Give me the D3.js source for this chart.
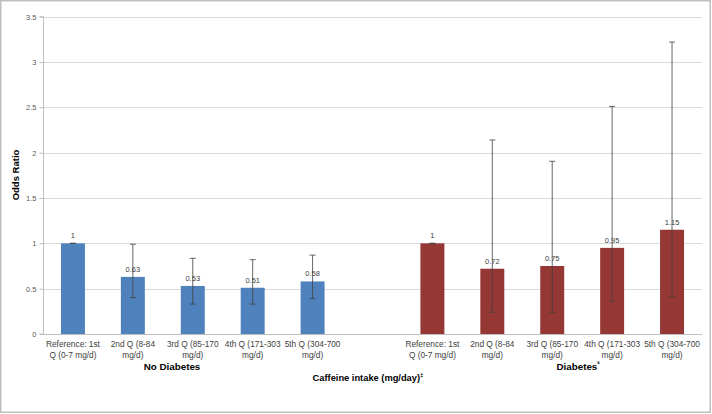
<!DOCTYPE html>
<html><head><meta charset="utf-8">
<script src="https://cdn.jsdelivr.net/npm/d3@7"></script>
<style>body{margin:0;background:#fff;}svg{display:block;font-family:"Liberation Sans",Arial,sans-serif;}</style>
</head><body>
<svg id="c" width="712" height="414"></svg>
<script>
const categories = ["n1","n2","n3","n4","n5","gap","d1","d2","d3","d4","d5"];
const catLabels = [
  ["Reference: 1st","Q (0-7 mg/d)"],["2nd Q (8-84","mg/d)"],["3rd Q (85-170","mg/d)"],["4th Q (171-303","mg/d)"],["5th Q (304-700","mg/d)"],
  ["",""],
  ["Reference: 1st","Q (0-7 mg/d)"],["2nd Q (8-84","mg/d)"],["3rd Q (85-170","mg/d)"],["4th Q (171-303","mg/d)"],["5th Q (304-700","mg/d)"]
];
const noDiabetesOR = [1, 0.63, 0.53, 0.51, 0.58];
const noDiabetesLow = [1, 0.40, 0.33, 0.33, 0.39];
const noDiabetesHigh = [1, 0.99, 0.835, 0.82, 0.87];
const diabetesOR = [1, 0.72, 0.75, 0.95, 1.15];
const diabetesLow = [1, 0.24, 0.24, 0.36, 0.41];
const diabetesHigh = [1, 2.14, 1.905, 2.51, 3.22];
const yTicks = [0, 0.5, 1, 1.5, 2, 2.5, 3, 3.5];
const groupLabels = ["No Diabetes", "Diabetes"];

const rows = [];
noDiabetesOR.forEach((v,i)=>rows.push({cat:categories[i], v, lo:noDiabetesLow[i], hi:noDiabetesHigh[i], color:"#4f81bd"}));
diabetesOR.forEach((v,i)=>rows.push({cat:categories[i+6], v, lo:diabetesLow[i], hi:diabetesHigh[i], color:"#953735"}));

const svg = d3.select("#c");
svg.append("rect").attr("x",0.75).attr("y",0.75).attr("width",709.5).attr("height",411.5).attr("fill","#fff").attr("stroke","#bfbfbf").attr("stroke-width",1.5);

const L=43, R=702, T=16.7, B=334;
const x = d3.scaleBand().domain(categories).range([L,R]).paddingInner(0.6).paddingOuter(0.3);
const y = d3.scaleLinear().domain([0,3.5]).range([B,T]);

// gridlines
svg.append("g").selectAll("line").data(yTicks).join("line")
  .attr("x1",L).attr("x2",R).attr("y1",d=>Math.round(y(d))+0.5).attr("y2",d=>Math.round(y(d))+0.5)
  .attr("stroke","#d9d9d9").attr("stroke-width",1);

// y axis
const ya = svg.append("g").attr("transform",`translate(${L+0.5},0)`)
  .call(d3.axisLeft(y).tickValues(yTicks).tickSize(4).tickPadding(3).tickFormat(d=>d));
ya.select(".domain").attr("stroke","#bfbfbf").attr("d",`M-4,${y(3.5)}H0V${B}H-4`);
ya.selectAll(".tick line").attr("stroke","#bfbfbf");
ya.selectAll(".tick text").attr("fill","#595959").style("font-size","7.5px").style("font-family","Liberation Sans, Arial");

// bars
svg.append("g").selectAll("rect").data(rows).join("rect")
  .attr("x",d=>x(d.cat)).attr("width",x.bandwidth())
  .attr("y",d=>y(d.v)).attr("height",d=>B-y(d.v)).attr("fill",d=>d.color);

// error bars
const eg = svg.append("g").attr("stroke","#404040").attr("stroke-width",0.8);
rows.forEach(d=>{
  const cx = x(d.cat)+x.bandwidth()/2;
  eg.append("line").attr("x1",cx).attr("x2",cx).attr("y1",y(d.lo)).attr("y2",y(d.hi));
  eg.append("line").attr("x1",cx-3).attr("x2",cx+3).attr("y1",y(d.lo)).attr("y2",y(d.lo));
  eg.append("line").attr("x1",cx-3).attr("x2",cx+3).attr("y1",y(d.hi)).attr("y2",y(d.hi));
});
// x axis line
svg.append("line").attr("x1",L).attr("x2",R).attr("y1",B+0.5).attr("y2",B+0.5).attr("stroke","#bfbfbf");

// value labels
svg.append("g").selectAll("text").data(rows).join("text")
  .attr("x",d=>x(d.cat)+x.bandwidth()/2).attr("y",d=>y(d.v)-5)
  .attr("text-anchor","middle").attr("fill","#404040").style("font-size","7.5px").text(d=>d.v);

// category labels
const cl = svg.append("g");
categories.forEach((c,i)=>{
  const cx = x(c)+x.bandwidth()/2;
  catLabels[i].forEach((t,j)=>{
    cl.append("text").attr("x",cx).attr("y",347+j*10.5).attr("text-anchor","middle")
      .attr("fill","#404040").style("font-size","8.3px").text(t);
  });
});

// group labels
svg.append("text").attr("x",172).attr("y",369.5).attr("text-anchor","middle").attr("font-weight","bold")
  .attr("fill","#000").style("font-size","9.8px").text(groupLabels[0]);
const dl = svg.append("text").attr("x",578).attr("y",369.5).attr("text-anchor","middle").attr("font-weight","bold")
  .attr("fill","#000").style("font-size","9.8px");
dl.append("tspan").text(groupLabels[1]);
dl.append("tspan").attr("dy",-4).style("font-size","6px").text("ª");

// x title
const xt = svg.append("text").attr("x",368).attr("y",381).attr("text-anchor","middle").attr("font-weight","bold")
  .attr("fill","#000").style("font-size","9.3px");
xt.append("tspan").text("Caffeine intake (mg/day)");
xt.append("tspan").attr("dy",-4).style("font-size","6px").text("‡");

// y title
svg.append("text").attr("transform","translate(19,175) rotate(-90)").attr("text-anchor","middle")
  .attr("font-weight","bold").attr("fill","#000").style("font-size","9.5px").text("Odds Ratio");
</script>
</body></html>
